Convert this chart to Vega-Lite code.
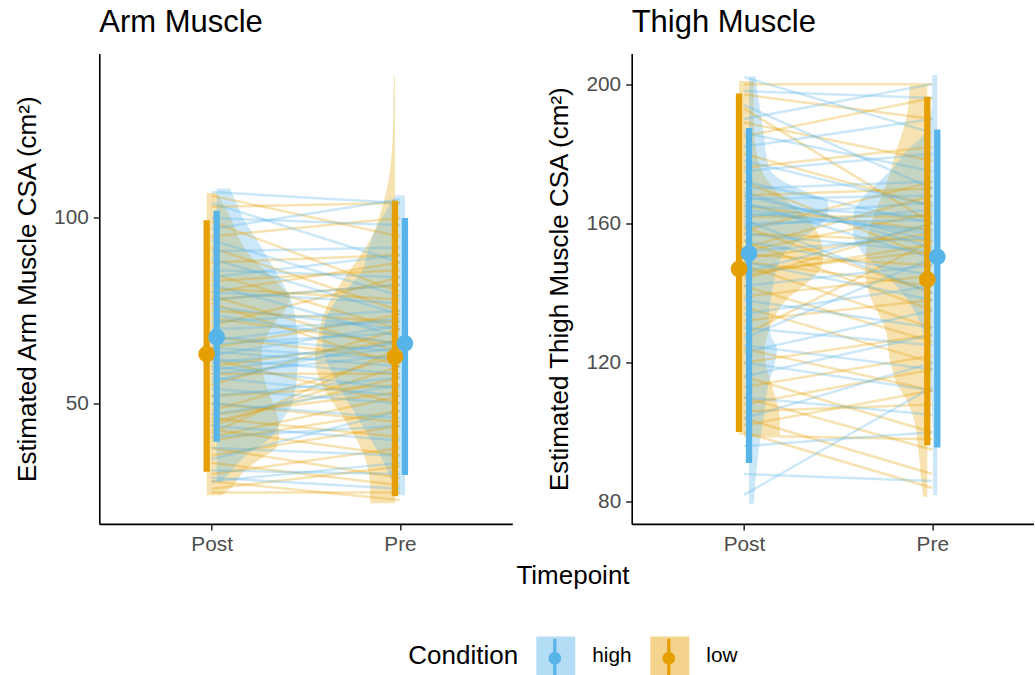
{
  "$schema": "https://vega.github.io/schema/vega-lite/v6.json",
  "background": "white",
  "padding": {"left": 14.3, "top": 7.5, "right": 0, "bottom": 0},
  "autosize": {"type": "pad"},
  "bounds": "flush",
  "spacing": 119.4,
  "config": {
    "font": "Liberation Sans",
    "view": {"stroke": null},
    "axis": {"grid": false, "domainColor": "black", "domainWidth": 1.6, "tickColor": "#333333", "tickWidth": 1.6, "tickSize": 6, "labelFontSize": 20.8, "labelColor": "#4d4d4d", "titleFontSize": 26, "titleColor": "black", "titleFontWeight": "normal", "labelPadding": 5},
    "title": {"fontSize": 31, "fontWeight": "normal", "anchor": "start", "frame": "group", "color": "black", "baseline": "alphabetic", "offset": 14},
    "legend": {"orient": "none", "legendX": 309, "legendY": 583, "direction": "horizontal", "titleOrient": "left", "titleFontSize": 26, "titleFontWeight": "normal", "titleColor": "black", "titleBaseline": "middle", "titleAnchor": "middle", "labelFontSize": 20.8, "labelColor": "black", "labelOffset": 17, "columnPadding": 18, "titlePadding": 18, "symbolSize": 1521}
  },
  "datasets": {
    "violin": [
      {"muscle":"Arm","time":"Post","Condition":"low","value":106.7,"dens":0.100},
      {"muscle":"Arm","time":"Post","Condition":"low","value":99.4,"dens":0.250},
      {"muscle":"Arm","time":"Post","Condition":"low","value":94.9,"dens":0.317},
      {"muscle":"Arm","time":"Post","Condition":"low","value":90.4,"dens":0.417},
      {"muscle":"Arm","time":"Post","Condition":"low","value":85.9,"dens":0.583},
      {"muscle":"Arm","time":"Post","Condition":"low","value":81.4,"dens":0.750},
      {"muscle":"Arm","time":"Post","Condition":"low","value":78.7,"dens":0.833},
      {"muscle":"Arm","time":"Post","Condition":"low","value":75.1,"dens":0.783},
      {"muscle":"Arm","time":"Post","Condition":"low","value":72.4,"dens":0.700},
      {"muscle":"Arm","time":"Post","Condition":"low","value":68.0,"dens":0.600},
      {"muscle":"Arm","time":"Post","Condition":"low","value":64.4,"dens":0.550},
      {"muscle":"Arm","time":"Post","Condition":"low","value":59.0,"dens":0.557},
      {"muscle":"Arm","time":"Post","Condition":"low","value":54.5,"dens":0.600},
      {"muscle":"Arm","time":"Post","Condition":"low","value":50.0,"dens":0.667},
      {"muscle":"Arm","time":"Post","Condition":"low","value":45.5,"dens":0.717},
      {"muscle":"Arm","time":"Post","Condition":"low","value":41.0,"dens":0.723},
      {"muscle":"Arm","time":"Post","Condition":"low","value":38.3,"dens":0.700},
      {"muscle":"Arm","time":"Post","Condition":"low","value":34.7,"dens":0.517},
      {"muscle":"Arm","time":"Post","Condition":"low","value":32.0,"dens":0.383},
      {"muscle":"Arm","time":"Post","Condition":"low","value":27.5,"dens":0.250},
      {"muscle":"Arm","time":"Post","Condition":"low","value":25.3,"dens":0.150},
      {"muscle":"Arm","time":"Post","Condition":"high","value":107.9,"dens":0.133},
      {"muscle":"Arm","time":"Post","Condition":"high","value":103.9,"dens":0.200},
      {"muscle":"Arm","time":"Post","Condition":"high","value":99.4,"dens":0.277},
      {"muscle":"Arm","time":"Post","Condition":"high","value":94.9,"dens":0.383},
      {"muscle":"Arm","time":"Post","Condition":"high","value":90.4,"dens":0.483},
      {"muscle":"Arm","time":"Post","Condition":"high","value":85.9,"dens":0.583},
      {"muscle":"Arm","time":"Post","Condition":"high","value":81.4,"dens":0.683},
      {"muscle":"Arm","time":"Post","Condition":"high","value":76.9,"dens":0.757},
      {"muscle":"Arm","time":"Post","Condition":"high","value":72.4,"dens":0.790},
      {"muscle":"Arm","time":"Post","Condition":"high","value":68.0,"dens":0.810},
      {"muscle":"Arm","time":"Post","Condition":"high","value":63.5,"dens":0.817},
      {"muscle":"Arm","time":"Post","Condition":"high","value":59.0,"dens":0.810},
      {"muscle":"Arm","time":"Post","Condition":"high","value":54.5,"dens":0.790},
      {"muscle":"Arm","time":"Post","Condition":"high","value":50.0,"dens":0.757},
      {"muscle":"Arm","time":"Post","Condition":"high","value":47.3,"dens":0.700},
      {"muscle":"Arm","time":"Post","Condition":"high","value":44.6,"dens":0.633},
      {"muscle":"Arm","time":"Post","Condition":"high","value":41.0,"dens":0.550},
      {"muscle":"Arm","time":"Post","Condition":"high","value":36.5,"dens":0.317},
      {"muscle":"Arm","time":"Post","Condition":"high","value":32.0,"dens":0.150},
      {"muscle":"Arm","time":"Post","Condition":"high","value":28.9,"dens":0.050},
      {"muscle":"Arm","time":"Pre","Condition":"low","value":138.4,"dens":0.010},
      {"muscle":"Arm","time":"Pre","Condition":"low","value":131.7,"dens":0.015},
      {"muscle":"Arm","time":"Pre","Condition":"low","value":123.6,"dens":0.020},
      {"muscle":"Arm","time":"Pre","Condition":"low","value":118.2,"dens":0.030},
      {"muscle":"Arm","time":"Pre","Condition":"low","value":112.9,"dens":0.050},
      {"muscle":"Arm","time":"Pre","Condition":"low","value":109.4,"dens":0.070},
      {"muscle":"Arm","time":"Pre","Condition":"low","value":103.9,"dens":0.117},
      {"muscle":"Arm","time":"Pre","Condition":"low","value":99.4,"dens":0.167},
      {"muscle":"Arm","time":"Pre","Condition":"low","value":94.9,"dens":0.233},
      {"muscle":"Arm","time":"Pre","Condition":"low","value":90.4,"dens":0.333},
      {"muscle":"Arm","time":"Pre","Condition":"low","value":85.9,"dens":0.450},
      {"muscle":"Arm","time":"Pre","Condition":"low","value":81.4,"dens":0.567},
      {"muscle":"Arm","time":"Pre","Condition":"low","value":76.9,"dens":0.667},
      {"muscle":"Arm","time":"Pre","Condition":"low","value":72.4,"dens":0.733},
      {"muscle":"Arm","time":"Pre","Condition":"low","value":68.0,"dens":0.767},
      {"muscle":"Arm","time":"Pre","Condition":"low","value":63.5,"dens":0.800},
      {"muscle":"Arm","time":"Pre","Condition":"low","value":59.0,"dens":0.783},
      {"muscle":"Arm","time":"Pre","Condition":"low","value":54.5,"dens":0.717},
      {"muscle":"Arm","time":"Pre","Condition":"low","value":50.0,"dens":0.617},
      {"muscle":"Arm","time":"Pre","Condition":"low","value":45.5,"dens":0.500},
      {"muscle":"Arm","time":"Pre","Condition":"low","value":41.0,"dens":0.400},
      {"muscle":"Arm","time":"Pre","Condition":"low","value":36.5,"dens":0.317},
      {"muscle":"Arm","time":"Pre","Condition":"low","value":32.0,"dens":0.267},
      {"muscle":"Arm","time":"Pre","Condition":"low","value":27.5,"dens":0.250},
      {"muscle":"Arm","time":"Pre","Condition":"low","value":23.1,"dens":0.250},
      {"muscle":"Arm","time":"Pre","Condition":"high","value":106.1,"dens":0.093},
      {"muscle":"Arm","time":"Pre","Condition":"high","value":99.4,"dens":0.243},
      {"muscle":"Arm","time":"Pre","Condition":"high","value":94.9,"dens":0.327},
      {"muscle":"Arm","time":"Pre","Condition":"high","value":90.4,"dens":0.377},
      {"muscle":"Arm","time":"Pre","Condition":"high","value":85.9,"dens":0.427},
      {"muscle":"Arm","time":"Pre","Condition":"high","value":81.4,"dens":0.560},
      {"muscle":"Arm","time":"Pre","Condition":"high","value":76.9,"dens":0.710},
      {"muscle":"Arm","time":"Pre","Condition":"high","value":72.4,"dens":0.793},
      {"muscle":"Arm","time":"Pre","Condition":"high","value":68.0,"dens":0.827},
      {"muscle":"Arm","time":"Pre","Condition":"high","value":63.5,"dens":0.810},
      {"muscle":"Arm","time":"Pre","Condition":"high","value":59.0,"dens":0.743},
      {"muscle":"Arm","time":"Pre","Condition":"high","value":54.5,"dens":0.660},
      {"muscle":"Arm","time":"Pre","Condition":"high","value":50.0,"dens":0.560},
      {"muscle":"Arm","time":"Pre","Condition":"high","value":45.5,"dens":0.460},
      {"muscle":"Arm","time":"Pre","Condition":"high","value":41.0,"dens":0.360},
      {"muscle":"Arm","time":"Pre","Condition":"high","value":36.5,"dens":0.260},
      {"muscle":"Arm","time":"Pre","Condition":"high","value":32.0,"dens":0.177},
      {"muscle":"Arm","time":"Pre","Condition":"high","value":25.3,"dens":0.080},
      {"muscle":"Thigh","time":"Post","Condition":"low","value":200.9,"dens":0.147},
      {"muscle":"Thigh","time":"Post","Condition":"low","value":190.6,"dens":0.147},
      {"muscle":"Thigh","time":"Post","Condition":"low","value":181.0,"dens":0.173},
      {"muscle":"Thigh","time":"Post","Condition":"low","value":171.5,"dens":0.307},
      {"muscle":"Thigh","time":"Post","Condition":"low","value":166.7,"dens":0.473},
      {"muscle":"Thigh","time":"Post","Condition":"low","value":161.9,"dens":0.673},
      {"muscle":"Thigh","time":"Post","Condition":"low","value":156.1,"dens":0.807},
      {"muscle":"Thigh","time":"Post","Condition":"low","value":150.4,"dens":0.840},
      {"muscle":"Thigh","time":"Post","Condition":"low","value":146.6,"dens":0.807},
      {"muscle":"Thigh","time":"Post","Condition":"low","value":142.7,"dens":0.673},
      {"muscle":"Thigh","time":"Post","Condition":"low","value":138.0,"dens":0.473},
      {"muscle":"Thigh","time":"Post","Condition":"low","value":133.2,"dens":0.357},
      {"muscle":"Thigh","time":"Post","Condition":"low","value":128.4,"dens":0.290},
      {"muscle":"Thigh","time":"Post","Condition":"low","value":123.6,"dens":0.257},
      {"muscle":"Thigh","time":"Post","Condition":"low","value":118.8,"dens":0.273},
      {"muscle":"Thigh","time":"Post","Condition":"low","value":114.0,"dens":0.323},
      {"muscle":"Thigh","time":"Post","Condition":"low","value":109.2,"dens":0.373},
      {"muscle":"Thigh","time":"Post","Condition":"low","value":104.4,"dens":0.407},
      {"muscle":"Thigh","time":"Post","Condition":"low","value":99.2,"dens":0.407},
      {"muscle":"Thigh","time":"Post","Condition":"high","value":202.3,"dens":0.063},
      {"muscle":"Thigh","time":"Post","Condition":"high","value":195.4,"dens":0.097},
      {"muscle":"Thigh","time":"Post","Condition":"high","value":185.8,"dens":0.147},
      {"muscle":"Thigh","time":"Post","Condition":"high","value":176.3,"dens":0.197},
      {"muscle":"Thigh","time":"Post","Condition":"high","value":171.5,"dens":0.380},
      {"muscle":"Thigh","time":"Post","Condition":"high","value":168.6,"dens":0.613},
      {"muscle":"Thigh","time":"Post","Condition":"high","value":166.7,"dens":0.780},
      {"muscle":"Thigh","time":"Post","Condition":"high","value":163.8,"dens":0.797},
      {"muscle":"Thigh","time":"Post","Condition":"high","value":160.0,"dens":0.730},
      {"muscle":"Thigh","time":"Post","Condition":"high","value":156.1,"dens":0.547},
      {"muscle":"Thigh","time":"Post","Condition":"high","value":152.3,"dens":0.380},
      {"muscle":"Thigh","time":"Post","Condition":"high","value":147.5,"dens":0.280},
      {"muscle":"Thigh","time":"Post","Condition":"high","value":142.7,"dens":0.247},
      {"muscle":"Thigh","time":"Post","Condition":"high","value":133.2,"dens":0.197},
      {"muscle":"Thigh","time":"Post","Condition":"high","value":128.4,"dens":0.213},
      {"muscle":"Thigh","time":"Post","Condition":"high","value":123.6,"dens":0.280},
      {"muscle":"Thigh","time":"Post","Condition":"high","value":118.8,"dens":0.247},
      {"muscle":"Thigh","time":"Post","Condition":"high","value":114.0,"dens":0.197},
      {"muscle":"Thigh","time":"Post","Condition":"high","value":104.4,"dens":0.147},
      {"muscle":"Thigh","time":"Post","Condition":"high","value":94.9,"dens":0.097},
      {"muscle":"Thigh","time":"Post","Condition":"high","value":85.3,"dens":0.063},
      {"muscle":"Thigh","time":"Post","Condition":"high","value":79.5,"dens":0.047},
      {"muscle":"Thigh","time":"Pre","Condition":"low","value":199.7,"dens":0.173},
      {"muscle":"Thigh","time":"Pre","Condition":"low","value":190.6,"dens":0.207},
      {"muscle":"Thigh","time":"Pre","Condition":"low","value":181.0,"dens":0.307},
      {"muscle":"Thigh","time":"Pre","Condition":"low","value":171.5,"dens":0.407},
      {"muscle":"Thigh","time":"Pre","Condition":"low","value":166.7,"dens":0.473},
      {"muscle":"Thigh","time":"Pre","Condition":"low","value":161.9,"dens":0.540},
      {"muscle":"Thigh","time":"Pre","Condition":"low","value":157.1,"dens":0.590},
      {"muscle":"Thigh","time":"Pre","Condition":"low","value":152.3,"dens":0.613},
      {"muscle":"Thigh","time":"Pre","Condition":"low","value":147.5,"dens":0.620},
      {"muscle":"Thigh","time":"Pre","Condition":"low","value":142.7,"dens":0.607},
      {"muscle":"Thigh","time":"Pre","Condition":"low","value":138.0,"dens":0.557},
      {"muscle":"Thigh","time":"Pre","Condition":"low","value":133.2,"dens":0.473},
      {"muscle":"Thigh","time":"Pre","Condition":"low","value":128.4,"dens":0.407},
      {"muscle":"Thigh","time":"Pre","Condition":"low","value":123.6,"dens":0.390},
      {"muscle":"Thigh","time":"Pre","Condition":"low","value":118.8,"dens":0.357},
      {"muscle":"Thigh","time":"Pre","Condition":"low","value":114.0,"dens":0.307},
      {"muscle":"Thigh","time":"Pre","Condition":"low","value":109.2,"dens":0.207},
      {"muscle":"Thigh","time":"Pre","Condition":"low","value":104.4,"dens":0.140},
      {"muscle":"Thigh","time":"Pre","Condition":"low","value":94.9,"dens":0.090},
      {"muscle":"Thigh","time":"Pre","Condition":"low","value":85.3,"dens":0.057},
      {"muscle":"Thigh","time":"Pre","Condition":"low","value":81.5,"dens":0.040},
      {"muscle":"Thigh","time":"Pre","Condition":"high","value":202.6,"dens":0.050},
      {"muscle":"Thigh","time":"Pre","Condition":"high","value":195.4,"dens":0.050},
      {"muscle":"Thigh","time":"Pre","Condition":"high","value":185.8,"dens":0.133},
      {"muscle":"Thigh","time":"Pre","Condition":"high","value":181.0,"dens":0.300},
      {"muscle":"Thigh","time":"Pre","Condition":"high","value":176.3,"dens":0.433},
      {"muscle":"Thigh","time":"Pre","Condition":"high","value":171.5,"dens":0.600},
      {"muscle":"Thigh","time":"Pre","Condition":"high","value":166.7,"dens":0.767},
      {"muscle":"Thigh","time":"Pre","Condition":"high","value":161.9,"dens":0.840},
      {"muscle":"Thigh","time":"Pre","Condition":"high","value":157.1,"dens":0.840},
      {"muscle":"Thigh","time":"Pre","Condition":"high","value":152.3,"dens":0.767},
      {"muscle":"Thigh","time":"Pre","Condition":"high","value":147.5,"dens":0.600},
      {"muscle":"Thigh","time":"Pre","Condition":"high","value":142.7,"dens":0.433},
      {"muscle":"Thigh","time":"Pre","Condition":"high","value":138.0,"dens":0.300},
      {"muscle":"Thigh","time":"Pre","Condition":"high","value":133.2,"dens":0.200},
      {"muscle":"Thigh","time":"Pre","Condition":"high","value":123.6,"dens":0.100},
      {"muscle":"Thigh","time":"Pre","Condition":"high","value":114.0,"dens":0.067},
      {"muscle":"Thigh","time":"Pre","Condition":"high","value":104.4,"dens":0.050},
      {"muscle":"Thigh","time":"Pre","Condition":"high","value":81.9,"dens":0.040}
    ],
    "lines": [
      {"muscle":"Arm","cond":"low","id":"AL1","Post":106,"Pre":95},
      {"muscle":"Arm","cond":"low","id":"AL2","Post":103,"Pre":104},
      {"muscle":"Arm","cond":"low","id":"AL3","Post":99,"Pre":80},
      {"muscle":"Arm","cond":"low","id":"AL4","Post":95,"Pre":100},
      {"muscle":"Arm","cond":"low","id":"AL5","Post":92,"Pre":75},
      {"muscle":"Arm","cond":"low","id":"AL6","Post":88,"Pre":90},
      {"muscle":"Arm","cond":"low","id":"AL7","Post":85,"Pre":70},
      {"muscle":"Arm","cond":"low","id":"AL8","Post":83,"Pre":86},
      {"muscle":"Arm","cond":"low","id":"AL9","Post":81,"Pre":78},
      {"muscle":"Arm","cond":"low","id":"AL10","Post":80,"Pre":88},
      {"muscle":"Arm","cond":"low","id":"AL11","Post":79,"Pre":64},
      {"muscle":"Arm","cond":"low","id":"AL12","Post":78,"Pre":82},
      {"muscle":"Arm","cond":"low","id":"AL13","Post":77,"Pre":60},
      {"muscle":"Arm","cond":"low","id":"AL14","Post":75,"Pre":72},
      {"muscle":"Arm","cond":"low","id":"AL15","Post":73,"Pre":66},
      {"muscle":"Arm","cond":"low","id":"AL16","Post":71,"Pre":84},
      {"muscle":"Arm","cond":"low","id":"AL17","Post":68,"Pre":62},
      {"muscle":"Arm","cond":"low","id":"AL18","Post":65,"Pre":74},
      {"muscle":"Arm","cond":"low","id":"AL19","Post":62,"Pre":50},
      {"muscle":"Arm","cond":"low","id":"AL20","Post":60,"Pre":67},
      {"muscle":"Arm","cond":"low","id":"AL21","Post":58,"Pre":58},
      {"muscle":"Arm","cond":"low","id":"AL22","Post":55,"Pre":70},
      {"muscle":"Arm","cond":"low","id":"AL23","Post":52,"Pre":55},
      {"muscle":"Arm","cond":"low","id":"AL24","Post":50,"Pre":45},
      {"muscle":"Arm","cond":"low","id":"AL25","Post":48,"Pre":63},
      {"muscle":"Arm","cond":"low","id":"AL26","Post":46,"Pre":41},
      {"muscle":"Arm","cond":"low","id":"AL27","Post":45,"Pre":57},
      {"muscle":"Arm","cond":"low","id":"AL28","Post":44,"Pre":60},
      {"muscle":"Arm","cond":"low","id":"AL29","Post":43,"Pre":36},
      {"muscle":"Arm","cond":"low","id":"AL30","Post":41,"Pre":52},
      {"muscle":"Arm","cond":"low","id":"AL31","Post":40,"Pre":48},
      {"muscle":"Arm","cond":"low","id":"AL32","Post":38,"Pre":30},
      {"muscle":"Arm","cond":"low","id":"AL33","Post":36,"Pre":44},
      {"muscle":"Arm","cond":"low","id":"AL34","Post":34,"Pre":28},
      {"muscle":"Arm","cond":"low","id":"AL35","Post":31,"Pre":38},
      {"muscle":"Arm","cond":"low","id":"AL36","Post":29,"Pre":24},
      {"muscle":"Arm","cond":"low","id":"AL37","Post":27,"Pre":33},
      {"muscle":"Arm","cond":"low","id":"AL38","Post":26,"Pre":26},
      {"muscle":"Arm","cond":"low","id":"AL39","Post":42,"Pre":65},
      {"muscle":"Arm","cond":"low","id":"AL40","Post":47,"Pre":53},
      {"muscle":"Arm","cond":"high","id":"AH1","Post":107,"Pre":104},
      {"muscle":"Arm","cond":"high","id":"AH2","Post":104,"Pre":88},
      {"muscle":"Arm","cond":"high","id":"AH3","Post":100,"Pre":98},
      {"muscle":"Arm","cond":"high","id":"AH4","Post":97,"Pre":105},
      {"muscle":"Arm","cond":"high","id":"AH5","Post":94,"Pre":79},
      {"muscle":"Arm","cond":"high","id":"AH6","Post":91,"Pre":92},
      {"muscle":"Arm","cond":"high","id":"AH7","Post":89,"Pre":74},
      {"muscle":"Arm","cond":"high","id":"AH8","Post":86,"Pre":84},
      {"muscle":"Arm","cond":"high","id":"AH9","Post":84,"Pre":90},
      {"muscle":"Arm","cond":"high","id":"AH10","Post":82,"Pre":68},
      {"muscle":"Arm","cond":"high","id":"AH11","Post":80,"Pre":77},
      {"muscle":"Arm","cond":"high","id":"AH12","Post":78,"Pre":82},
      {"muscle":"Arm","cond":"high","id":"AH13","Post":76,"Pre":70},
      {"muscle":"Arm","cond":"high","id":"AH14","Post":74,"Pre":66},
      {"muscle":"Arm","cond":"high","id":"AH15","Post":72,"Pre":75},
      {"muscle":"Arm","cond":"high","id":"AH16","Post":70,"Pre":72},
      {"muscle":"Arm","cond":"high","id":"AH17","Post":68,"Pre":64},
      {"muscle":"Arm","cond":"high","id":"AH18","Post":66,"Pre":69},
      {"muscle":"Arm","cond":"high","id":"AH19","Post":64,"Pre":60},
      {"muscle":"Arm","cond":"high","id":"AH20","Post":63,"Pre":71},
      {"muscle":"Arm","cond":"high","id":"AH21","Post":62,"Pre":58},
      {"muscle":"Arm","cond":"high","id":"AH22","Post":61,"Pre":66},
      {"muscle":"Arm","cond":"high","id":"AH23","Post":60,"Pre":54},
      {"muscle":"Arm","cond":"high","id":"AH24","Post":58,"Pre":63},
      {"muscle":"Arm","cond":"high","id":"AH25","Post":56,"Pre":67},
      {"muscle":"Arm","cond":"high","id":"AH26","Post":54,"Pre":50},
      {"muscle":"Arm","cond":"high","id":"AH27","Post":52,"Pre":57},
      {"muscle":"Arm","cond":"high","id":"AH28","Post":50,"Pre":46},
      {"muscle":"Arm","cond":"high","id":"AH29","Post":47,"Pre":55},
      {"muscle":"Arm","cond":"high","id":"AH30","Post":44,"Pre":40},
      {"muscle":"Arm","cond":"high","id":"AH31","Post":41,"Pre":44},
      {"muscle":"Arm","cond":"high","id":"AH32","Post":38,"Pre":36},
      {"muscle":"Arm","cond":"high","id":"AH33","Post":35,"Pre":48},
      {"muscle":"Arm","cond":"high","id":"AH34","Post":32,"Pre":31},
      {"muscle":"Arm","cond":"high","id":"AH35","Post":30,"Pre":27},
      {"muscle":"Arm","cond":"high","id":"AH36","Post":29,"Pre":34},
      {"muscle":"Arm","cond":"high","id":"AH37","Post":65,"Pre":62},
      {"muscle":"Arm","cond":"high","id":"AH38","Post":67,"Pre":73},
      {"muscle":"Arm","cond":"high","id":"AH39","Post":59,"Pre":65},
      {"muscle":"Arm","cond":"high","id":"AH40","Post":57,"Pre":52},
      {"muscle":"Thigh","cond":"low","id":"TL1","Post":200,"Pre":200},
      {"muscle":"Thigh","cond":"low","id":"TL2","Post":197,"Pre":190},
      {"muscle":"Thigh","cond":"low","id":"TL3","Post":193,"Pre":160},
      {"muscle":"Thigh","cond":"low","id":"TL4","Post":189,"Pre":178},
      {"muscle":"Thigh","cond":"low","id":"TL5","Post":185,"Pre":196},
      {"muscle":"Thigh","cond":"low","id":"TL6","Post":180,"Pre":165},
      {"muscle":"Thigh","cond":"low","id":"TL7","Post":176,"Pre":182},
      {"muscle":"Thigh","cond":"low","id":"TL8","Post":172,"Pre":150},
      {"muscle":"Thigh","cond":"low","id":"TL9","Post":168,"Pre":170},
      {"muscle":"Thigh","cond":"low","id":"TL10","Post":165,"Pre":158},
      {"muscle":"Thigh","cond":"low","id":"TL11","Post":162,"Pre":162},
      {"muscle":"Thigh","cond":"low","id":"TL12","Post":159,"Pre":140},
      {"muscle":"Thigh","cond":"low","id":"TL13","Post":157,"Pre":155},
      {"muscle":"Thigh","cond":"low","id":"TL14","Post":155,"Pre":135},
      {"muscle":"Thigh","cond":"low","id":"TL15","Post":153,"Pre":168},
      {"muscle":"Thigh","cond":"low","id":"TL16","Post":151,"Pre":148},
      {"muscle":"Thigh","cond":"low","id":"TL17","Post":150,"Pre":157},
      {"muscle":"Thigh","cond":"low","id":"TL18","Post":148,"Pre":130},
      {"muscle":"Thigh","cond":"low","id":"TL19","Post":146,"Pre":152},
      {"muscle":"Thigh","cond":"low","id":"TL20","Post":144,"Pre":160},
      {"muscle":"Thigh","cond":"low","id":"TL21","Post":142,"Pre":126},
      {"muscle":"Thigh","cond":"low","id":"TL22","Post":139,"Pre":145},
      {"muscle":"Thigh","cond":"low","id":"TL23","Post":136,"Pre":120},
      {"muscle":"Thigh","cond":"low","id":"TL24","Post":132,"Pre":138},
      {"muscle":"Thigh","cond":"low","id":"TL25","Post":128,"Pre":155},
      {"muscle":"Thigh","cond":"low","id":"TL26","Post":124,"Pre":112},
      {"muscle":"Thigh","cond":"low","id":"TL27","Post":120,"Pre":128},
      {"muscle":"Thigh","cond":"low","id":"TL28","Post":116,"Pre":100},
      {"muscle":"Thigh","cond":"low","id":"TL29","Post":113,"Pre":122},
      {"muscle":"Thigh","cond":"low","id":"TL30","Post":110,"Pre":95},
      {"muscle":"Thigh","cond":"low","id":"TL31","Post":108,"Pre":118},
      {"muscle":"Thigh","cond":"low","id":"TL32","Post":106,"Pre":108},
      {"muscle":"Thigh","cond":"low","id":"TL33","Post":104,"Pre":88},
      {"muscle":"Thigh","cond":"low","id":"TL34","Post":102,"Pre":112},
      {"muscle":"Thigh","cond":"low","id":"TL35","Post":100,"Pre":84},
      {"muscle":"Thigh","cond":"low","id":"TL36","Post":99,"Pre":98},
      {"muscle":"Thigh","cond":"low","id":"TL37","Post":152,"Pre":163},
      {"muscle":"Thigh","cond":"low","id":"TL38","Post":149,"Pre":142},
      {"muscle":"Thigh","cond":"low","id":"TL39","Post":158,"Pre":172},
      {"muscle":"Thigh","cond":"low","id":"TL40","Post":145,"Pre":154},
      {"muscle":"Thigh","cond":"high","id":"TH1","Post":202,"Pre":186},
      {"muscle":"Thigh","cond":"high","id":"TH2","Post":198,"Pre":196},
      {"muscle":"Thigh","cond":"high","id":"TH3","Post":194,"Pre":170},
      {"muscle":"Thigh","cond":"high","id":"TH4","Post":190,"Pre":200},
      {"muscle":"Thigh","cond":"high","id":"TH5","Post":186,"Pre":175},
      {"muscle":"Thigh","cond":"high","id":"TH6","Post":182,"Pre":190},
      {"muscle":"Thigh","cond":"high","id":"TH7","Post":178,"Pre":165},
      {"muscle":"Thigh","cond":"high","id":"TH8","Post":175,"Pre":180},
      {"muscle":"Thigh","cond":"high","id":"TH9","Post":172,"Pre":160},
      {"muscle":"Thigh","cond":"high","id":"TH10","Post":170,"Pre":172},
      {"muscle":"Thigh","cond":"high","id":"TH11","Post":168,"Pre":155},
      {"muscle":"Thigh","cond":"high","id":"TH12","Post":167,"Pre":168},
      {"muscle":"Thigh","cond":"high","id":"TH13","Post":166,"Pre":150},
      {"muscle":"Thigh","cond":"high","id":"TH14","Post":165,"Pre":162},
      {"muscle":"Thigh","cond":"high","id":"TH15","Post":163,"Pre":158},
      {"muscle":"Thigh","cond":"high","id":"TH16","Post":161,"Pre":140},
      {"muscle":"Thigh","cond":"high","id":"TH17","Post":159,"Pre":164},
      {"muscle":"Thigh","cond":"high","id":"TH18","Post":157,"Pre":152},
      {"muscle":"Thigh","cond":"high","id":"TH19","Post":155,"Pre":145},
      {"muscle":"Thigh","cond":"high","id":"TH20","Post":152,"Pre":156},
      {"muscle":"Thigh","cond":"high","id":"TH21","Post":149,"Pre":138},
      {"muscle":"Thigh","cond":"high","id":"TH22","Post":146,"Pre":160},
      {"muscle":"Thigh","cond":"high","id":"TH23","Post":142,"Pre":148},
      {"muscle":"Thigh","cond":"high","id":"TH24","Post":138,"Pre":130},
      {"muscle":"Thigh","cond":"high","id":"TH25","Post":134,"Pre":142},
      {"muscle":"Thigh","cond":"high","id":"TH26","Post":130,"Pre":125},
      {"muscle":"Thigh","cond":"high","id":"TH27","Post":127,"Pre":150},
      {"muscle":"Thigh","cond":"high","id":"TH28","Post":125,"Pre":118},
      {"muscle":"Thigh","cond":"high","id":"TH29","Post":123,"Pre":135},
      {"muscle":"Thigh","cond":"high","id":"TH30","Post":120,"Pre":112},
      {"muscle":"Thigh","cond":"high","id":"TH31","Post":116,"Pre":128},
      {"muscle":"Thigh","cond":"high","id":"TH32","Post":110,"Pre":105},
      {"muscle":"Thigh","cond":"high","id":"TH33","Post":104,"Pre":120},
      {"muscle":"Thigh","cond":"high","id":"TH34","Post":96,"Pre":100},
      {"muscle":"Thigh","cond":"high","id":"TH35","Post":88,"Pre":86},
      {"muscle":"Thigh","cond":"high","id":"TH36","Post":82,"Pre":113},
      {"muscle":"Thigh","cond":"high","id":"TH37","Post":164,"Pre":157},
      {"muscle":"Thigh","cond":"high","id":"TH38","Post":162,"Pre":166},
      {"muscle":"Thigh","cond":"high","id":"TH39","Post":169,"Pre":153},
      {"muscle":"Thigh","cond":"high","id":"TH40","Post":160,"Pre":161}
    ],
    "summary": [
      {"muscle":"Arm","time":"Post","cond":"low","mean":63.3,"lo":31.6,"hi":99.4},
      {"muscle":"Arm","time":"Pre","cond":"low","mean":62.6,"lo":25.0,"hi":104.6},
      {"muscle":"Arm","time":"Post","cond":"high","mean":67.9,"lo":39.7,"hi":101.9},
      {"muscle":"Arm","time":"Pre","cond":"high","mean":66.2,"lo":30.7,"hi":100.0},
      {"muscle":"Thigh","time":"Post","cond":"low","mean":146.9,"lo":100.1,"hi":197.3},
      {"muscle":"Thigh","time":"Pre","cond":"low","mean":143.9,"lo":96.3,"hi":196.4},
      {"muscle":"Thigh","time":"Post","cond":"high","mean":151.4,"lo":91.2,"hi":187.4},
      {"muscle":"Thigh","time":"Pre","cond":"high","mean":150.4,"lo":95.6,"hi":187.0}
    ]
  },
  "hconcat": [
    {
      "width": 413,
      "height": 470.4,
      "title": {"text": "Arm Muscle"},
      "resolve": {"scale": {"x": "independent"}},
      "layer": [
        {
          "data": {"name": "violin"},
          "transform": [{"filter": "datum.muscle == 'Arm' && datum.time == 'Post' && datum.Condition == 'low'"}],
          "mark": {"type": "area", "orient": "horizontal", "fillOpacity": 0.3, "interpolate": "monotone"},
          "encoding": {
            "y": {"field": "value", "type": "quantitative", "title": "Estimated Arm Muscle CSA (cm²)", "scale": {"domain": [17.56, 144.3], "nice": false, "zero": false}, "axis": {"values": [50, 100], "titlePadding": 13}},
            "x": {"field": "dens", "type": "quantitative", "scale": {"domain": [-1.074, 3.056], "nice": false, "zero": false}, "axis": null},
            "x2": {"datum": 0},
            "fill": {"field": "Condition", "type": "nominal", "scale": {"domain": ["low", "high"], "range": ["#E69F00", "#56B4E9"]},
              "legend": {"title": "Condition", "values": ["high", "low"], "symbolType": "square", "symbolStrokeWidth": 0, "encode": {"symbols": {"update": {"fillOpacity": {"value": 0.45}, "opacity": {"value": 1}, "strokeWidth": {"value": 0}}}}}}
          }
        },
        {
          "data": {"name": "violin"},
          "transform": [{"filter": "datum.muscle == 'Arm' && datum.time == 'Post' && datum.Condition == 'high'"}],
          "mark": {"type": "area", "orient": "horizontal", "fillOpacity": 0.3, "interpolate": "monotone"},
          "encoding": {
            "y": {"field": "value", "type": "quantitative", "title": "Estimated Arm Muscle CSA (cm²)"},
            "x": {"field": "dens", "type": "quantitative", "scale": {"domain": [-1.174, 2.956], "nice": false, "zero": false}, "axis": null},
            "x2": {"datum": 0},
            "fill": {"field": "Condition", "type": "nominal", "scale": {"domain": ["low", "high"], "range": ["#E69F00", "#56B4E9"]}}
          }
        },
        {
          "data": {"name": "violin"},
          "transform": [{"filter": "datum.muscle == 'Arm' && datum.time == 'Pre' && datum.Condition == 'low'"}],
          "mark": {"type": "area", "orient": "horizontal", "fillOpacity": 0.3, "interpolate": "monotone"},
          "encoding": {
            "y": {"field": "value", "type": "quantitative", "title": "Estimated Arm Muscle CSA (cm²)"},
            "x": {"field": "dens", "type": "quantitative", "scale": {"domain": [-1.173, 2.957], "reverse": true, "nice": false, "zero": false}, "axis": null},
            "x2": {"datum": 0},
            "fill": {"field": "Condition", "type": "nominal", "scale": {"domain": ["low", "high"], "range": ["#E69F00", "#56B4E9"]}}
          }
        },
        {
          "data": {"name": "violin"},
          "transform": [{"filter": "datum.muscle == 'Arm' && datum.time == 'Pre' && datum.Condition == 'high'"}],
          "mark": {"type": "area", "orient": "horizontal", "fillOpacity": 0.3, "interpolate": "monotone"},
          "encoding": {
            "y": {"field": "value", "type": "quantitative", "title": "Estimated Arm Muscle CSA (cm²)"},
            "x": {"field": "dens", "type": "quantitative", "scale": {"domain": [-1.073, 3.057], "reverse": true, "nice": false, "zero": false}, "axis": null},
            "x2": {"datum": 0},
            "fill": {"field": "Condition", "type": "nominal", "scale": {"domain": ["low", "high"], "range": ["#E69F00", "#56B4E9"]}}
          }
        },
        {
          "data": {"name": "lines"},
          "transform": [{"filter": "datum.muscle == 'Arm'"}, {"fold": ["Post", "Pre"], "as": ["time", "value"]}],
          "mark": {"type": "line", "strokeWidth": 2.5, "strokeOpacity": 0.3},
          "encoding": {
            "x": {"field": "time", "type": "nominal", "scale": {"type": "point", "domain": ["Post", "Pre"], "padding": 0.5967, "align": 0.5, "round": false},
              "axis": {"title": "Timepoint", "labelAngle": 0, "titleX": 473.2, "titleY": 59.6, "titleBaseline": "alphabetic", "titleAlign": "center"}},
            "y": {"field": "value", "type": "quantitative", "title": "Estimated Arm Muscle CSA (cm²)"},
            "detail": {"field": "id", "type": "nominal"},
            "stroke": {"field": "cond", "type": "nominal", "scale": {"domain": ["high", "low"], "range": ["#56B4E9", "#E69F00"]},
              "legend": {"title": null, "labelExpr": "''", "labelOffset": 0, "legendX": 434, "legendY": 583, "columnPadding": 61,
                "symbolType": "M-1,-1L-1,-1M1,1L1,1M0,-1V1M0,-0.24A0.24,0.24 0 1,1 0,0.24A0.24,0.24 0 1,1 0,-0.24M0,-0.16A0.16,0.16 0 1,1 0,0.16A0.16,0.16 0 1,1 0,-0.16M0,-0.08A0.08,0.08 0 1,1 0,0.08A0.08,0.08 0 1,1 0,-0.08",
                "symbolStrokeWidth": 3.3, "symbolFillColor": "transparent",
                "encode": {"symbols": {"update": {"opacity": {"value": 1}, "strokeOpacity": {"value": 1}, "strokeWidth": {"value": 3.3}, "fill": {"value": "transparent"}}}}}}
          }
        },
        {
          "data": {"name": "summary"},
          "transform": [{"filter": "datum.muscle == 'Arm'"}],
          "mark": {"type": "rule", "strokeWidth": 6.3},
          "encoding": {
            "x": {"field": "time", "type": "nominal", "scale": {"type": "band", "domain": ["Post", "Pre"], "paddingInner": 0.8938, "paddingOuter": 0.5436, "align": 0.5, "round": false}, "axis": null},
            "xOffset": {"field": "cond", "type": "nominal", "scale": {"domain": ["low", "high"], "paddingInner": 0, "paddingOuter": 0}},
            "y": {"field": "lo", "type": "quantitative", "title": "Estimated Arm Muscle CSA (cm²)"},
            "y2": {"field": "hi"},
            "stroke": {"field": "cond", "type": "nominal", "scale": {"domain": ["high", "low"], "range": ["#56B4E9", "#E69F00"]}}
          }
        },
        {
          "data": {"name": "summary"},
          "transform": [{"filter": "datum.muscle == 'Arm'"}],
          "mark": {"type": "point", "shape": "circle", "filled": false, "size": 60, "strokeWidth": 9, "opacity": 1},
          "encoding": {
            "x": {"field": "time", "type": "nominal", "scale": {"type": "band", "domain": ["Post", "Pre"], "paddingInner": 0.8938, "paddingOuter": 0.5436, "align": 0.5, "round": false}, "axis": null},
            "xOffset": {"field": "cond", "type": "nominal", "scale": {"domain": ["low", "high"], "paddingInner": 0, "paddingOuter": 0}},
            "y": {"field": "mean", "type": "quantitative", "title": "Estimated Arm Muscle CSA (cm²)"},
            "stroke": {"field": "cond", "type": "nominal", "scale": {"domain": ["high", "low"], "range": ["#56B4E9", "#E69F00"]}}
          }
        }
      ]
    },
    {
      "width": 402.5,
      "height": 470.4,
      "title": {"text": "Thigh Muscle"},
      "resolve": {"scale": {"x": "independent"}},
      "layer": [
        {
          "data": {"name": "violin"},
          "transform": [{"filter": "datum.muscle == 'Thigh' && datum.time == 'Post' && datum.Condition == 'low'"}],
          "mark": {"type": "area", "orient": "horizontal", "fillOpacity": 0.3, "interpolate": "monotone"},
          "encoding": {
            "y": {"field": "value", "type": "quantitative", "title": "Estimated Thigh Muscle CSA (cm²)", "scale": {"domain": [73.68, 208.8], "nice": false, "zero": false}, "axis": {"values": [80, 120, 160, 200], "titlePadding": 13}},
            "x": {"field": "dens", "type": "quantitative", "scale": {"domain": [-1.073, 2.952], "nice": false, "zero": false}, "axis": null},
            "x2": {"datum": 0},
            "fill": {"field": "Condition", "type": "nominal", "scale": {"domain": ["low", "high"], "range": ["#E69F00", "#56B4E9"]}}
          }
        },
        {
          "data": {"name": "violin"},
          "transform": [{"filter": "datum.muscle == 'Thigh' && datum.time == 'Post' && datum.Condition == 'high'"}],
          "mark": {"type": "area", "orient": "horizontal", "fillOpacity": 0.3, "interpolate": "monotone"},
          "encoding": {
            "y": {"field": "value", "type": "quantitative", "title": "Estimated Thigh Muscle CSA (cm²)"},
            "x": {"field": "dens", "type": "quantitative", "scale": {"domain": [-1.173, 2.852], "nice": false, "zero": false}, "axis": null},
            "x2": {"datum": 0},
            "fill": {"field": "Condition", "type": "nominal", "scale": {"domain": ["low", "high"], "range": ["#E69F00", "#56B4E9"]}}
          }
        },
        {
          "data": {"name": "violin"},
          "transform": [{"filter": "datum.muscle == 'Thigh' && datum.time == 'Pre' && datum.Condition == 'low'"}],
          "mark": {"type": "area", "orient": "horizontal", "fillOpacity": 0.3, "interpolate": "monotone"},
          "encoding": {
            "y": {"field": "value", "type": "quantitative", "title": "Estimated Thigh Muscle CSA (cm²)"},
            "x": {"field": "dens", "type": "quantitative", "scale": {"domain": [-1.069, 2.956], "reverse": true, "nice": false, "zero": false}, "axis": null},
            "x2": {"datum": 0},
            "fill": {"field": "Condition", "type": "nominal", "scale": {"domain": ["low", "high"], "range": ["#E69F00", "#56B4E9"]}}
          }
        },
        {
          "data": {"name": "violin"},
          "transform": [{"filter": "datum.muscle == 'Thigh' && datum.time == 'Pre' && datum.Condition == 'high'"}],
          "mark": {"type": "area", "orient": "horizontal", "fillOpacity": 0.3, "interpolate": "monotone"},
          "encoding": {
            "y": {"field": "value", "type": "quantitative", "title": "Estimated Thigh Muscle CSA (cm²)"},
            "x": {"field": "dens", "type": "quantitative", "scale": {"domain": [-0.969, 3.056], "reverse": true, "nice": false, "zero": false}, "axis": null},
            "x2": {"datum": 0},
            "fill": {"field": "Condition", "type": "nominal", "scale": {"domain": ["low", "high"], "range": ["#E69F00", "#56B4E9"]}}
          }
        },
        {
          "data": {"name": "lines"},
          "transform": [{"filter": "datum.muscle == 'Thigh'"}, {"fold": ["Post", "Pre"], "as": ["time", "value"]}],
          "mark": {"type": "line", "strokeWidth": 2.5, "strokeOpacity": 0.3},
          "encoding": {
            "x": {"field": "time", "type": "nominal", "scale": {"type": "point", "domain": ["Post", "Pre"], "padding": 0.5688, "align": 0.5243, "round": false},
              "axis": {"title": null, "labelAngle": 0}},
            "y": {"field": "value", "type": "quantitative", "title": "Estimated Thigh Muscle CSA (cm²)"},
            "detail": {"field": "id", "type": "nominal"},
            "stroke": {"field": "cond", "type": "nominal", "scale": {"domain": ["high", "low"], "range": ["#56B4E9", "#E69F00"]}}
          }
        },
        {
          "data": {"name": "summary"},
          "transform": [{"filter": "datum.muscle == 'Thigh'"}],
          "mark": {"type": "rule", "strokeWidth": 6.3},
          "encoding": {
            "x": {"field": "time", "type": "nominal", "scale": {"type": "band", "domain": ["Post", "Pre"], "paddingInner": 0.8938, "paddingOuter": 0.5157, "align": 0.5268, "round": false}, "axis": null},
            "xOffset": {"field": "cond", "type": "nominal", "scale": {"domain": ["low", "high"], "paddingInner": 0, "paddingOuter": 0}},
            "y": {"field": "lo", "type": "quantitative", "title": "Estimated Thigh Muscle CSA (cm²)"},
            "y2": {"field": "hi"},
            "stroke": {"field": "cond", "type": "nominal", "scale": {"domain": ["high", "low"], "range": ["#56B4E9", "#E69F00"]}}
          }
        },
        {
          "data": {"name": "summary"},
          "transform": [{"filter": "datum.muscle == 'Thigh'"}],
          "mark": {"type": "point", "shape": "circle", "filled": false, "size": 60, "strokeWidth": 9, "opacity": 1},
          "encoding": {
            "x": {"field": "time", "type": "nominal", "scale": {"type": "band", "domain": ["Post", "Pre"], "paddingInner": 0.8938, "paddingOuter": 0.5157, "align": 0.5268, "round": false}, "axis": null},
            "xOffset": {"field": "cond", "type": "nominal", "scale": {"domain": ["low", "high"], "paddingInner": 0, "paddingOuter": 0}},
            "y": {"field": "mean", "type": "quantitative", "title": "Estimated Thigh Muscle CSA (cm²)"},
            "stroke": {"field": "cond", "type": "nominal", "scale": {"domain": ["high", "low"], "range": ["#56B4E9", "#E69F00"]}}
          }
        }
      ]
    }
  ]
}
